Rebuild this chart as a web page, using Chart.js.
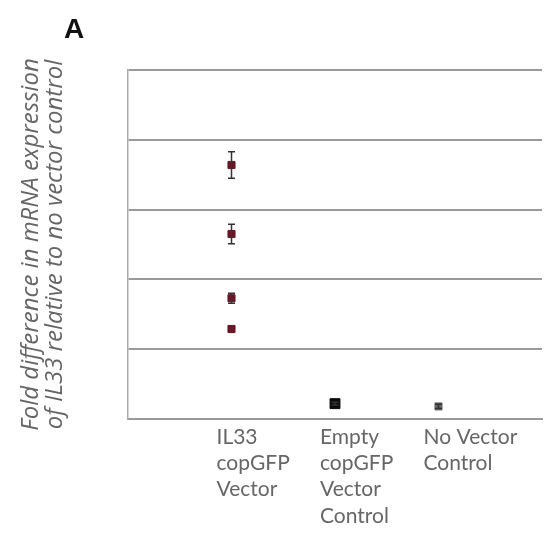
<!DOCTYPE html>
<html>
<head>
<meta charset="utf-8">
<script src="https://cdn.jsdelivr.net/npm/chart.js@4.4.1/dist/chart.umd.min.js"></script>
<style>
  html, body { margin: 0; padding: 0; background: #fff; }
  #wrap { position: relative; width: 550px; height: 539px; }
  #panel { position: absolute; left: 64px; top: 13px; font: bold 28px "Liberation Sans", Arial, sans-serif; color: #111; }
</style>
</head>
<body>
<div id="wrap">
  <canvas id="chart" width="550" height="539"></canvas>
  <div id="panel">A</div>
</div>
<script>
// Categories and read-off values
const categories = [
    ['IL33', 'copGFP', 'Vector'],
    ['Empty', 'copGFP', 'Vector', 'Control'],
    ['No Vector', 'Control']
];
const il33Values = [3.64, 2.65, 1.73, 1.29];
const il33Errors = [0.19, 0.14, 0.07, 0];
const emptyValues = [0.22];
const emptyErrors = [0.02];
const noVectorValues = [0.18];
const noVectorErrors = [0.03];
const yTicks = [0, 1, 2, 3, 4, 5];

const toPoints = (x, vals, errs) => vals.map((v, i) => ({ x: x, y: v, err: errs[i] }));

// Draw error bars from the dataset's err field
const errorBars = {
    id: 'errorBars',
    afterDatasetsDraw(chart) {
        const { ctx, scales: { x, y } } = chart;
        ctx.save();
        ctx.strokeStyle = '#333';
        ctx.lineWidth = 1.5;
        chart.data.datasets.forEach(ds => {
            ds.data.forEach(p => {
                if (!p.err) return;
                const px = x.getPixelForValue(p.x);
                const top = y.getPixelForValue(p.y + p.err);
                const bot = y.getPixelForValue(p.y - p.err);
                ctx.beginPath();
                ctx.moveTo(px, top); ctx.lineTo(px, bot);
                ctx.moveTo(px - 3.5, top); ctx.lineTo(px + 3.5, top);
                ctx.moveTo(px - 3.5, bot); ctx.lineTo(px + 3.5, bot);
                ctx.stroke();
            });
        });
        ctx.restore();
    }
};

new Chart(document.getElementById('chart'), {
    type: 'scatter',
    data: {
        datasets: [
            {
                label: 'IL33 copGFP Vector',
                data: toPoints(1, il33Values, il33Errors),
                pointStyle: 'rect',
                pointRadius: 5,
                backgroundColor: '#6e1422',
                borderColor: '#6e1422'
            },
            {
                label: 'Empty copGFP Vector Control',
                data: toPoints(2, emptyValues, emptyErrors),
                pointStyle: 'rect',
                pointRadius: 7,
                backgroundColor: '#0a0a0a',
                borderColor: '#0a0a0a'
            },
            {
                label: 'No Vector Control',
                data: toPoints(3, noVectorValues, noVectorErrors),
                pointStyle: 'rect',
                pointRadius: 5,
                backgroundColor: '#6a6a6a',
                borderColor: '#6a6a6a'
            }
        ]
    },
    options: {
        responsive: false,
        animation: false,
        layout: { padding: { left: 0, right: 4, top: 70, bottom: 0 } },
        plugins: {
            legend: { display: false },
            tooltip: { enabled: false }
        },
        scales: {
            x: {
                type: 'linear',
                min: 0,
                max: 4,
                afterBuildTicks(scale) {
                    scale.ticks = categories.map((c, i) => ({ value: i + 1 }));
                },
                afterFit(scale) { scale.height = 120; },
                grid: { display: false, drawTicks: false },
                border: { display: true, color: '#999', width: 2 },
                ticks: {
                    autoSkip: false,
                    maxRotation: 0,
                    align: 'start',
                    labelOffset: -15,
                    padding: 5,
                    color: '#666',
                    font: { family: 'Lato', size: 21, lineHeight: 1.25 },
                    callback: (v) => categories[v - 1]
                }
            },
            y: {
                min: 0,
                max: 5,
                afterBuildTicks(scale) {
                    scale.ticks = yTicks.map(v => ({ value: v }));
                },
                afterFit(scale) { scale.width = 128; },
                grid: { color: '#9a9a9a', lineWidth: 2, drawTicks: false },
                border: { display: true, color: '#aaa', width: 1.5 },
                ticks: { display: false },
                title: {
                    display: true,
                    text: ['Fold difference in mRNA expression', 'of IL33 relative to no vector control'],
                    color: '#666',
                    font: { family: 'Open Sans', size: 24, style: 'italic', lineHeight: 1.0 },
                    padding: { top: 19, bottom: 0 }
                }
            }
        }
    },
    plugins: [errorBars]
});
</script>
</body>
</html>
